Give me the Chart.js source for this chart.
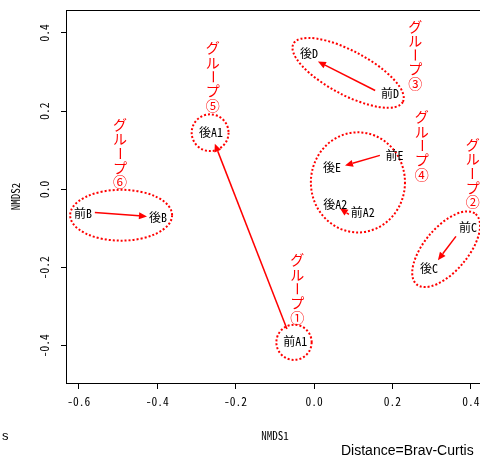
<!DOCTYPE html>
<html>
<head>
<meta charset="utf-8">
<script src="https://cdn.jsdelivr.net/npm/chart.js@4.4.0/dist/chart.umd.min.js"></script>
<style>
html, body { margin: 0; padding: 0; background: #fff; overflow: hidden; }
#wrap { width: 490px; height: 455px; }
</style>
</head>
<body>
<div id="wrap"><canvas id="nmdsChart" width="490" height="455"></canvas></div>
<script>
// Datos de las muestras (NMDS1, NMDS2)
const sampleNames = ['前A1', '後A1', '前A2', '後A2', '前B', '後B', '前C', '後C', '前D', '後D', '前E', '後E'];
const nmds1 = [-0.048, -0.263, 0.124, 0.054, -0.589, -0.398, 0.393, 0.293, 0.194, -0.013, 0.205, 0.046];
const nmds2 = [-0.390, 0.145, -0.059, -0.038, -0.061, -0.071, -0.097, -0.202, 0.245, 0.347, 0.087, 0.056];

// Flechas 前 -> 後
const arrowX0 = [-0.069, 0.089, -0.559, 0.362, 0.156, 0.168];
const arrowY0 = [-0.357, -0.064, -0.059, -0.120, 0.253, 0.087];
const arrowX1 = [-0.253, 0.066, -0.426, 0.316, 0.010, 0.079];
const arrowY1 = [0.117, -0.048, -0.069, -0.181, 0.327, 0.061];

// Grupos: etiqueta y elipse
const groupNames = ['グループ①', 'グループ②', 'グループ③', 'グループ④', 'グループ⑤', 'グループ⑥'];
const groupLabelX = [-0.043, 0.405, 0.258, 0.275, -0.258, -0.495];
const groupLabelY = [-0.254, 0.041, 0.344, 0.112, 0.288, 0.092];
const ellipseX = [-0.051, 0.337, 0.087, 0.112, -0.265, -0.492];
const ellipseY = [-0.391, -0.153, 0.298, 0.018, 0.145, -0.066];
const ellipseRx = [0.045, 0.117, 0.158, 0.120, 0.047, 0.130];
const ellipseRy = [0.045, 0.056, 0.056, 0.128, 0.047, 0.065];
const ellipseAngle = [0, -50, 28, 0, 0, 0];

// Ejes
const xMin = -0.630, xMax = 0.431;
const yMin = -0.495, yMax = 0.459;
const tickStep = 0.2;

const monoFont = '"Noto Sans Mono CJK JP", "Liberation Mono", monospace';
const jpFont = '"Noto Sans CJK JP", "Noto Sans", sans-serif';
const red = '#ff0000';

const decorPlugin = {
    id: 'nmdsDecor',
    afterDraw(chart) {
        const ctx = chart.ctx;
        const xs = chart.scales.x;
        const ys = chart.scales.y;
        const area = chart.chartArea;
        const px = v => xs.getPixelForValue(v);
        const py = v => ys.getPixelForValue(v);
        ctx.save();

        // marco del gráfico
        ctx.strokeStyle = '#000';
        ctx.lineWidth = 1;
        ctx.strokeRect(Math.round(area.left) - 0.5, Math.round(area.top) + 0.5,
            Math.round(area.right - area.left), Math.round(area.bottom - area.top));

        // etiquetas del eje Y (giradas)
        ctx.fillStyle = '#000';
        ctx.font = '11.5px ' + monoFont;
        ctx.textAlign = 'center';
        ctx.textBaseline = 'middle';
        ys.ticks.forEach(t => {
            ctx.save();
            ctx.translate(45, py(t.value));
            ctx.rotate(-Math.PI / 2);
            ctx.fillText(t.value.toFixed(1), 0, 0);
            ctx.restore();
        });

        // elipses punteadas
        ctx.strokeStyle = red;
        ctx.lineWidth = 2;
        ctx.setLineDash([2, 2]);
        for (let i = 0; i < ellipseX.length; i++) {
            const cx = px(ellipseX[i]), cy = py(ellipseY[i]);
            const rx = Math.abs(px(ellipseX[i] + ellipseRx[i]) - cx);
            const ry = Math.abs(py(ellipseY[i] + ellipseRy[i]) - cy);
            ctx.beginPath();
            ctx.ellipse(cx, cy, rx, ry, ellipseAngle[i] * Math.PI / 180, 0, Math.PI * 2);
            ctx.stroke();
        }
        ctx.setLineDash([]);

        // flechas
        ctx.lineWidth = 1.5;
        ctx.fillStyle = red;
        for (let i = 0; i < arrowX0.length; i++) {
            const x0 = px(arrowX0[i]), y0 = py(arrowY0[i]);
            const x1 = px(arrowX1[i]), y1 = py(arrowY1[i]);
            const ang = Math.atan2(y1 - y0, x1 - x0);
            const hl = 8, hw = 3.5;
            const bx = x1 - hl * Math.cos(ang), by = y1 - hl * Math.sin(ang);
            ctx.beginPath();
            ctx.moveTo(x0, y0);
            ctx.lineTo(bx, by);
            ctx.stroke();
            ctx.beginPath();
            ctx.moveTo(x1, y1);
            ctx.lineTo(bx + hw * Math.sin(ang), by - hw * Math.cos(ang));
            ctx.lineTo(bx - hw * Math.sin(ang), by + hw * Math.cos(ang));
            ctx.closePath();
            ctx.fill();
        }

        // nombres de las muestras
        ctx.fillStyle = '#000';
        ctx.font = '12px ' + monoFont;
        ctx.textAlign = 'center';
        ctx.textBaseline = 'middle';
        chart.getDatasetMeta(0).data.forEach((pt, i) => {
            ctx.fillText(sampleNames[i], pt.x, pt.y);
        });

        // etiquetas de grupo (texto vertical)
        ctx.fillStyle = red;
        ctx.font = '14px ' + jpFont;
        const step = 14.3;
        for (let i = 0; i < groupNames.length; i++) {
            const chars = Array.from(groupNames[i]);
            const cx = px(groupLabelX[i]);
            const cy = py(groupLabelY[i]);
            const y0 = cy - step * (chars.length - 1) / 2;
            chars.forEach((c, k) => {
                ctx.save();
                ctx.translate(cx, y0 + k * step);
                if (c === 'ー') ctx.rotate(Math.PI / 2);
                ctx.fillText(c, 0, 0);
                ctx.restore();
            });
        }

        // textos al pie
        ctx.fillStyle = '#000';
        ctx.font = '14px "Liberation Sans", sans-serif';
        ctx.textAlign = 'left';
        ctx.fillText('Distance=Bray-Curtis', 341, 451);
        ctx.font = '13px "Liberation Sans", sans-serif';
        ctx.fillText('s', 2, 436);
        ctx.restore();
    }
};

const ctx = document.getElementById('nmdsChart').getContext('2d');
new Chart(ctx, {
    type: 'scatter',
    data: {
        datasets: [{
            data: nmds1.map((x, i) => ({ x: x, y: nmds2[i] })),
            pointRadius: 0,
            pointHoverRadius: 0
        }]
    },
    options: {
        responsive: false,
        animation: false,
        events: [],
        layout: { padding: { top: 9, right: 7, left: 0, bottom: 0 } },
        plugins: { legend: { display: false }, tooltip: { enabled: false } },
        scales: {
            x: {
                type: 'linear',
                position: 'bottom',
                min: xMin,
                max: xMax,
                afterFit: s => { s.height = 72; },
                border: { display: false },
                grid: { display: true, drawOnChartArea: false, drawTicks: true, tickLength: 6, color: '#000' },
                ticks: {
                    stepSize: tickStep,
                    includeBounds: false,
                    padding: 6,
                    color: '#000',
                    maxRotation: 0,
                    autoSkip: false,
                    font: { family: monoFont, size: 11.5 },
                    callback: v => v.toFixed(1)
                },
                title: { display: true, text: 'NMDS1', color: '#000', font: { family: monoFont, size: 11 }, padding: { top: 0, bottom: 13 } }
            },
            y: {
                type: 'linear',
                position: 'left',
                min: yMin,
                max: yMax,
                afterFit: s => { s.width = 67; },
                border: { display: false },
                grid: { display: true, drawOnChartArea: false, drawTicks: true, tickLength: 6, color: '#000' },
                ticks: {
                    stepSize: tickStep,
                    includeBounds: false,
                    color: 'rgba(0,0,0,0)',
                    font: { family: monoFont, size: 11.5 },
                    callback: v => v.toFixed(1)
                },
                title: { display: true, text: 'NMDS2', color: '#000', font: { family: monoFont, size: 11 }, padding: { top: 9, bottom: 0 } }
            }
        }
    },
    plugins: [decorPlugin]
});
</script>
</body>
</html>
